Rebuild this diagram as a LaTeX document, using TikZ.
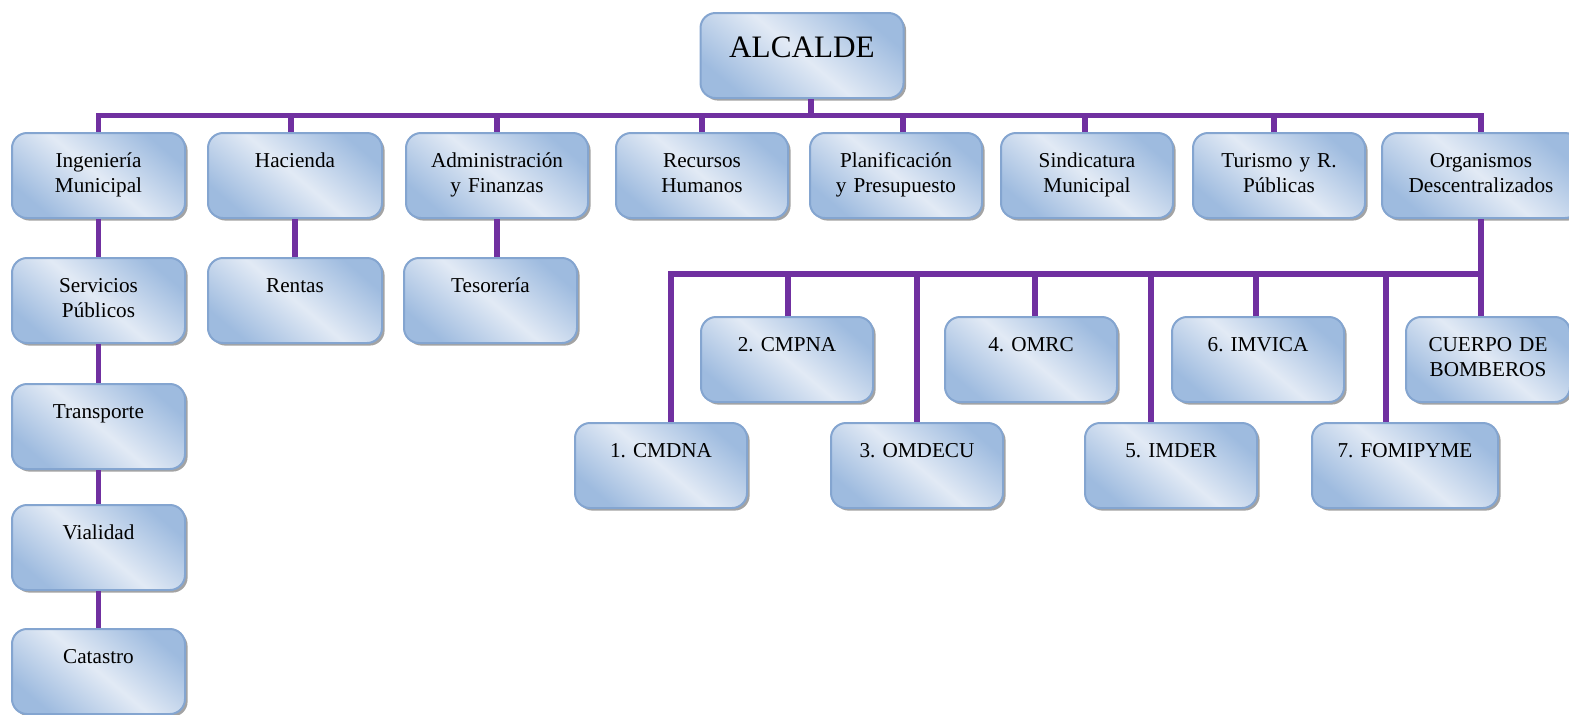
\documentclass[tikz,border=0pt]{standalone}
\usepackage{fontspec}
\setmainfont{Liberation Serif}
\usetikzlibrary{shadows}
\frenchspacing

\definecolor{boxlight}{RGB}{226,234,245}
\definecolor{boxdark}{RGB}{158,187,223}
\definecolor{boxline}{RGB}{132,165,208}
\definecolor{linkviolet}{RGB}{112,48,160}

\tikzset{
  orgbox/.style={draw=boxline, line width=1pt, rounded corners=7.5pt,
    left color=boxdark, right color=boxdark, middle color=boxlight, shading angle=140,
    drop shadow={shadow xshift=1.3pt, shadow yshift=-1.3pt, fill=black!60, opacity=0.6},
    anchor=north, inner xsep=0pt, inner ysep=0pt, align=center,
    text width=#1, text height=17.2pt, text depth=25.3pt,
    font=\fontsize{10.6}{12.5}\selectfont},
  orgbox/.default=86pt,
  link/.style={draw=linkviolet, line width=2.75pt}
}

\begin{document}
\begin{tikzpicture}[x=0.5pt,y=-0.5pt]
        \useasboundingbox (0,0) rectangle (1569,714);

        % head
        \node[orgbox=101.5pt, text height=22.3pt, text depth=20.2pt,
              font=\fontsize{15.6}{18}\selectfont] (alc) at (802,12) {ALCALDE};

        % first level
        \node[orgbox=86.5pt] (ing) at (98.5,132) {Ingeniería\\Municipal};
        \node[orgbox=87pt] (hac) at (295,132) {Hacienda};
        \node[orgbox=91pt] (adm) at (497,132) {Administración\\y Finanzas};
        \node[orgbox=86pt] (rec) at (702,132) {Recursos\\Humanos};
        \node[orgbox=86pt] (pla) at (896,132) {Planificación\\y Presupuesto};
        \node[orgbox=86pt] (sin) at (1087,132) {Sindicatura\\Municipal};
        \node[orgbox=86pt] (tur) at (1279,132) {Turismo y R.\\Públicas};
        \node[orgbox=99pt] (org) at (1481,132) {Organismos\\Descentralizados};

        % second level
        \node[orgbox=86.5pt] (srv) at (98.5,257) {Servicios\\Públicos};
        \node[orgbox=87pt] (ren) at (295,257) {Rentas};
        \node[orgbox=86.5pt] (tes) at (490.5,257) {Tesorería};
        \node[orgbox=86.5pt] (tra) at (98.5,383) {Transporte};
        \node[orgbox=86.5pt] (via) at (98.5,504) {Vialidad};
        \node[orgbox=86.5pt] (cat) at (98.5,628) {Catastro};

        % decentralized bodies
        \node[orgbox=86pt] (cmdna) at (661,422) {1. CMDNA};
        \node[orgbox=86pt] (cmpna) at (787,316) {2. CMPNA};
        \node[orgbox=86pt] (omdecu) at (917,422) {3. OMDECU};
        \node[orgbox=86pt] (omrc) at (1031,316) {4. OMRC};
        \node[orgbox=86pt] (imder) at (1171,422) {5. IMDER};
        \node[orgbox=86pt] (imvica) at (1258,316) {6. IMVICA};
        \node[orgbox=93pt] (fomipyme) at (1405,422) {7. FOMIPYME};
        \node[orgbox=82pt] (bomberos) at (1488,316) {CUERPO DE\\BOMBEROS};

        \coordinate (topbus) at (811,115.5);
        \coordinate (orgbus) at (1481,274);

        % top bus
        \path ([xshift=4.5pt]alc.south) coordinate (alcdrop);
        \draw[link] (alcdrop) -- (alcdrop |- topbus);
        \draw[link] (ing.north) |- (topbus) -| (org.north);
        \foreach \n/\s in {hac/-2,adm/0,rec/0,pla/3.5,sin/-1,tur/-2.5}{
            \path ([xshift=\s pt]\n.north) coordinate (\n top);
            \draw[link] (\n top) -- (\n top |- topbus);
        }

        % columns
        \draw[link] (ing.south) -- (srv.north);
        \draw[link] (srv.south) -- (tra.north);
        \draw[link] (tra.south) -- (via.north);
        \draw[link] (via.south) -- (cat.north);
        \draw[link] (hac.south) -- (ren.north);
        \draw[link] (adm.south) -- (adm.south |- tes.north);

        % decentralized bus
        \draw[link] (org.south) -- (org.south |- bomberos.north);
        \path ([xshift=5pt]cmdna.north) coordinate (cmdna top);
        \draw[link] (cmdna top) |- (orgbus);
        \foreach \n/\s in {cmpna/0.5,omdecu/0,omrc/2,imder/-10,imvica/-1,fomipyme/-9.5}{
            \path ([xshift=\s pt]\n.north) coordinate (\n top);
            \draw[link] (\n top) -- (\n top |- orgbus);
        }
    \end{tikzpicture}
\end{document}
